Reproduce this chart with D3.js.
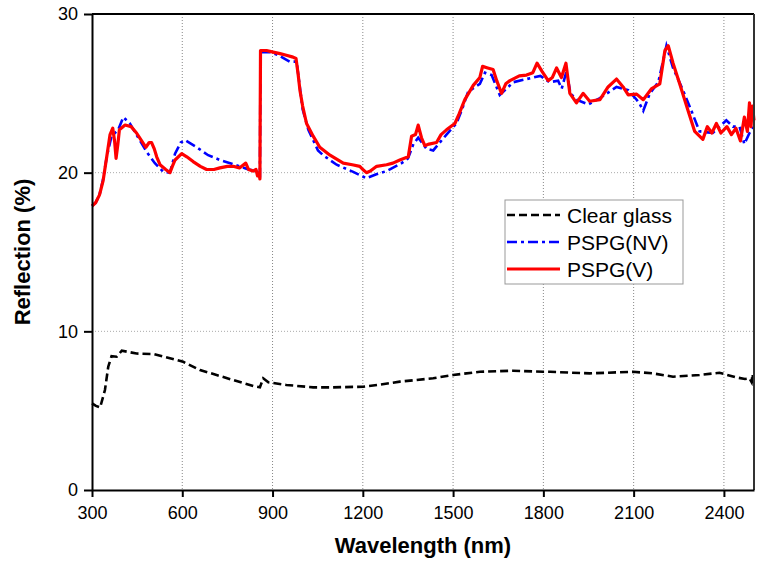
<!DOCTYPE html>
<html>
<head>
<meta charset="utf-8">
<script src="https://cdn.jsdelivr.net/npm/d3@7"></script>
<style>
  body { margin: 0; background: #fff; }
  svg { font-family: "Liberation Sans", Arial, sans-serif; }
</style>
</head>
<body>
<script>
/////////////////////////////// data
var xTicks = [300, 600, 900, 1200, 1500, 1800, 2100, 2400];
var yTicks = [0, 10, 20, 30];
var seriesNames = ["Clear glass", "PSPG(NV)", "PSPG(V)"];

// [wavelength nm, reflection %]
var clearGlass = [
  [300, 5.46], [313, 5.3], [327, 5.2], [343, 6.3], [354, 7.77], [365, 8.44], [382, 8.4],
  [399, 8.78], [448, 8.6], [504, 8.57], [559, 8.3], [603, 8.08], [659, 7.56], [714, 7.25],
  [769, 6.93], [836, 6.55], [858, 6.47], [869, 7.04], [886, 6.79], [946, 6.62], [1035, 6.47],
  [1100, 6.47], [1201, 6.51], [1260, 6.65], [1323, 6.83], [1434, 7.04], [1500, 7.25],
  [1589, 7.45], [1700, 7.52], [1799, 7.45], [1822, 7.45], [1954, 7.35], [2098, 7.45],
  [2164, 7.35], [2231, 7.14], [2319, 7.25], [2385, 7.39], [2440, 7.1], [2470, 7.0],
  [2485, 7.04], [2492, 6.8], [2495, 7.3], [2500, 6.6]
];

var pspgNV = [
  [300, 17.9], [312, 18.1], [325, 18.6], [337, 19.6], [349, 21.0], [365, 22.3], [387, 22.7],
  [404, 23.5], [426, 23.1], [454, 22.2], [482, 21.3], [509, 20.6], [537, 20.05], [559, 20.0],
  [576, 21.2], [595, 21.9], [609, 22.05], [648, 21.6], [686, 21.1], [725, 20.8], [759, 20.6],
  [790, 20.4], [820, 20.2], [845, 20.1], [856, 19.9], [858, 19.7], [860, 27.6], [891, 27.6],
  [920, 27.4], [957, 27.0], [980, 27.0], [990, 25.5], [1000, 24.0], [1019, 22.7], [1051, 21.4],
  [1068, 21.1], [1113, 20.5], [1168, 20.05], [1212, 19.65], [1245, 19.9], [1279, 20.1],
  [1329, 20.6], [1350, 20.9], [1368, 21.8], [1384, 22.2], [1412, 21.5], [1434, 21.4],
  [1478, 22.4], [1511, 23.1], [1530, 24.0], [1550, 25.1], [1589, 25.6], [1606, 26.3],
  [1628, 26.15], [1655, 24.9], [1700, 25.7], [1766, 26.0], [1790, 26.1], [1821, 25.7],
  [1849, 25.8], [1861, 25.3], [1877, 26.4], [1890, 25.0], [1910, 24.6], [1949, 24.3],
  [1988, 24.7], [2043, 25.4], [2082, 25.2], [2110, 24.6], [2121, 24.3], [2132, 23.9],
  [2154, 25.0], [2182, 25.7], [2209, 28.0], [2231, 26.6], [2264, 25.2], [2292, 23.9],
  [2319, 22.6], [2363, 22.5], [2408, 23.3], [2430, 22.9], [2452, 22.9], [2468, 21.8],
  [2485, 22.5], [2500, 22.9]
];

var pspgV = [
  [300, 17.9], [312, 18.1], [325, 18.6], [337, 19.5], [349, 21.0], [360, 22.4], [369, 22.8],
  [375, 22.0], [380, 20.9], [386, 21.8], [391, 22.7], [410, 23.0], [430, 22.9], [448, 22.5],
  [465, 22.0], [479, 21.6], [490, 21.9], [498, 21.9], [507, 21.5], [515, 21.0], [526, 20.5],
  [545, 20.2], [559, 20.0], [567, 20.4], [576, 20.8], [598, 21.2], [615, 21.0], [636, 20.7],
  [660, 20.4], [681, 20.2], [705, 20.2], [725, 20.3], [750, 20.4], [769, 20.4], [790, 20.3],
  [811, 20.6], [820, 20.2], [835, 20.1], [845, 20.2], [850, 19.8], [856, 19.9], [858, 19.6],
  [860, 27.7], [880, 27.7], [902, 27.6], [925, 27.5], [946, 27.4], [965, 27.3], [978, 27.2],
  [985, 26.2], [991, 25.2], [1000, 24.2], [1013, 23.1], [1035, 22.3], [1057, 21.6],
  [1091, 21.1], [1135, 20.6], [1165, 20.5], [1190, 20.4], [1200, 20.2], [1212, 20.0],
  [1225, 20.1], [1246, 20.4], [1279, 20.5], [1300, 20.6], [1323, 20.8], [1351, 21.0],
  [1362, 22.3], [1375, 22.4], [1384, 23.0], [1395, 22.2], [1406, 21.7], [1420, 21.8],
  [1445, 21.9], [1460, 22.4], [1478, 22.7], [1506, 23.1], [1520, 23.7], [1539, 24.6],
  [1567, 25.5], [1589, 26.0], [1598, 26.7], [1615, 26.6], [1633, 26.5], [1645, 25.8],
  [1661, 25.0], [1675, 25.6], [1689, 25.8], [1720, 26.1], [1744, 26.15], [1765, 26.3],
  [1779, 26.9], [1795, 26.4], [1816, 25.8], [1830, 26.0], [1844, 26.6], [1860, 26.0],
  [1875, 26.9], [1888, 25.0], [1910, 24.4], [1932, 25.0], [1954, 24.5], [1988, 24.6],
  [2015, 25.4], [2043, 25.9], [2065, 25.4], [2082, 24.9], [2110, 24.95], [2132, 24.6],
  [2160, 25.3], [2187, 25.6], [2204, 27.7], [2215, 28.0], [2231, 26.9], [2253, 25.6],
  [2281, 23.9], [2303, 22.6], [2330, 22.1], [2345, 22.9], [2360, 22.5], [2375, 23.1],
  [2390, 22.5], [2410, 22.9], [2425, 22.4], [2440, 22.8], [2455, 22.0], [2468, 23.5],
  [2478, 22.6], [2485, 24.4], [2490, 22.9], [2495, 24.2], [2500, 23.3]
];

/////////////////////////////// sizes
var margin = { top: 14, right: 13, bottom: 73, left: 92 },
  width = 767 - margin.left - margin.right,
  height = 563 - margin.top - margin.bottom;

var svg = d3
  .select("body")
  .append("svg")
  .attr("width", 767)
  .attr("height", 563);

var g = svg
  .append("g")
  .attr("transform", "translate(" + margin.left + "," + margin.top + ")");

var x = d3.scaleLinear().domain([300, 2500]).range([0, width]);
var y = d3.scaleLinear().domain([0, 30]).range([height, 0]);

// grid lines (dotted)
g.selectAll(".vgrid")
  .data(xTicks.slice(1))
  .enter()
  .append("line")
  .attr("x1", (d) => x(d))
  .attr("x2", (d) => x(d))
  .attr("y1", 0)
  .attr("y2", height)
  .attr("stroke", "#888")
  .attr("stroke-width", 1)
  .attr("stroke-dasharray", "1,2");

g.selectAll(".hgrid")
  .data(yTicks.slice(1, 3))
  .enter()
  .append("line")
  .attr("x1", 0)
  .attr("x2", width)
  .attr("y1", (d) => y(d))
  .attr("y2", (d) => y(d))
  .attr("stroke", "#aaa")
  .attr("stroke-width", 1)
  .attr("stroke-dasharray", "1,2");

// lines
var line = d3
  .line()
  .x((d) => x(d[0]))
  .y((d) => y(d[1]));

g.append("path")
  .datum(clearGlass)
  .attr("d", line)
  .attr("fill", "none")
  .attr("stroke", "#000")
  .attr("stroke-width", 2.6)
  .attr("stroke-dasharray", "8,4");

g.append("path")
  .datum(pspgNV)
  .attr("d", line)
  .attr("fill", "none")
  .attr("stroke", "#0000ff")
  .attr("stroke-width", 2.6)
  .attr("stroke-dasharray", "10,4,3,4");

g.append("path")
  .datum(pspgV)
  .attr("d", line)
  .attr("fill", "none")
  .attr("stroke", "#ff0000")
  .attr("stroke-width", 3.2)
  .attr("stroke-linejoin", "round");

// frame
g.append("line").attr("x1", 0).attr("x2", width).attr("y1", 0).attr("y2", 0)
  .attr("stroke", "#000").attr("stroke-width", 2);
g.append("line").attr("x1", width).attr("x2", width).attr("y1", 0).attr("y2", height)
  .attr("stroke", "#333").attr("stroke-width", 2);

// axes
var xAxis = g
  .append("g")
  .attr("transform", "translate(0," + height + ")")
  .call(d3.axisBottom(x).tickValues(xTicks).tickFormat(d3.format("d"))
    .tickSize(7).tickSizeOuter(0).tickPadding(9));

var yAxis = g
  .append("g")
  .call(d3.axisLeft(y).tickValues(yTicks).tickFormat(d3.format("d"))
    .tickSize(8).tickSizeOuter(0).tickPadding(6));

[xAxis, yAxis].forEach(function (a) {
  a.select(".domain").attr("stroke", "#000").attr("stroke-width", 2);
  a.selectAll(".tick line").attr("stroke", "#000").attr("stroke-width", 2);
  a.selectAll(".tick text")
    .attr("fill", "#000")
    .style("font-size", "18px")
    .style("font-family", "'Liberation Sans', Arial, sans-serif");
});

// axis titles
svg.append("text")
  .attr("x", margin.left + width / 2)
  .attr("y", 553)
  .attr("text-anchor", "middle")
  .style("font-size", "22px")
  .style("font-weight", "bold")
  .text("Wavelength (nm)");

svg.append("text")
  .attr("transform", "translate(30," + (margin.top + height / 2) + ") rotate(-90)")
  .attr("text-anchor", "middle")
  .style("font-size", "22px")
  .style("font-weight", "bold")
  .text("Reflection (%)");

// legend
var legend = svg.append("g").attr("transform", "translate(505,200)");
legend.append("rect")
  .attr("width", 178)
  .attr("height", 84)
  .attr("fill", "#fff")
  .attr("stroke", "#999")
  .attr("stroke-width", 1);

var legendStyles = [
  { color: "#000", dash: "8,4", w: 2.6 },
  { color: "#0000ff", dash: "10,4,3,4", w: 2.6 },
  { color: "#ff0000", dash: null, w: 3.2 }
];

var items = legend
  .selectAll(".item")
  .data(seriesNames)
  .enter()
  .append("g")
  .attr("transform", (d, i) => "translate(0," + (15 + i * 27) + ")");

items.append("line")
  .attr("x1", 2)
  .attr("x2", 55)
  .attr("stroke", (d, i) => legendStyles[i].color)
  .attr("stroke-width", (d, i) => legendStyles[i].w)
  .attr("stroke-dasharray", (d, i) => legendStyles[i].dash);

items.append("text")
  .attr("x", 62)
  .attr("dy", "0.36em")
  .style("font-size", "21px")
  .text((d) => d);
</script>
</body>
</html>
